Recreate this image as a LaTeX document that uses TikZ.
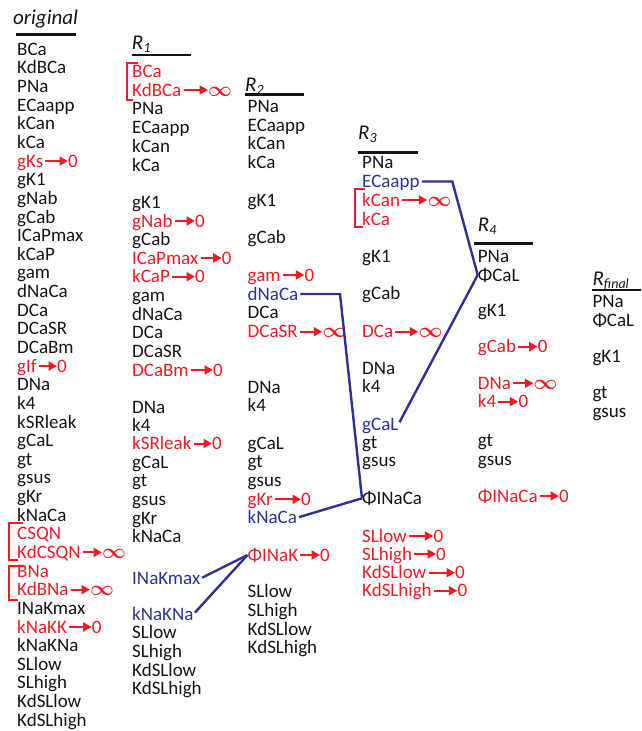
\documentclass[tikz,border=0pt]{standalone}
\usepackage{fontspec}
\setmainfont{Carlito}
\usetikzlibrary{arrows.meta}
\definecolor{cred}{RGB}{237,28,36}
\definecolor{cblue}{RGB}{46,49,146}
\definecolor{ctext}{RGB}{20,20,20}
\tikzset{
  lab/.style={anchor=west, inner sep=0pt, text height=12pt, text depth=0pt, text=ctext, font=\fontsize{19}{19}\selectfont},
  rl/.style={lab, text=cred},
  bl/.style={lab, text=cblue},
  ttl/.style={anchor=west, inner sep=0pt, text height=14pt, text depth=0pt, text=ctext, font={\fontsize{21}{21}\selectfont\itshape}},
  uline/.style={line width=2.4pt, ctext},
  rarr/.style={cred, line width=2pt, -{Triangle[length=8.5pt,width=9pt]}, shorten <=2pt},
  bline/.style={cblue, line width=2.4pt, shorten <=2pt, line join=miter},
  brk/.style={cred, line width=2pt}
}
\newcommand\redcut[6]{%
  \node[rl] (#1) at (#2,#3) {#4};
  \node[rl] (#1v) at (#5,#3) {#6};
  \draw[rarr] (#1.east) -- (#1v.west);}
\newcommand\infsym{{\fontsize{22}{22}\selectfont\boldmath$\infty$}}
\newcommand\subs[1]{\raisebox{-3pt}{\fontsize{14}{14}\selectfont #1}}
\begin{document}
\begin{tikzpicture}[x=1pt,y=-1pt]
\useasboundingbox (0,0) rectangle (641,731);

% ---------- original ----------
\node[ttl] (to) at (13,17) {original};
\draw[uline] (16,34.5) -- (76,34.5);
\node[lab] (o0) at (17,49.3) {BCa};
\node[lab] (o1) at (17,67.9) {KdBCa};
\node[lab] (o2) at (17,86.6) {PNa};
\node[lab] (o3) at (17,105.2) {ECaapp};
\node[lab] (o4) at (17,123.8) {kCan};
\node[lab] (o5) at (17,142.5) {kCa};
\redcut{o6}{17}{161.1}{gKs}{68}{0}
\node[lab] (o7) at (17,179.7) {gK1};
\node[lab] (o8) at (17,198.4) {gNab};
\node[lab] (o9) at (17,217.0) {gCab};
\node[lab] (o10) at (17,235.7) {ICaPmax};
\node[lab] (o11) at (17,254.3) {kCaP};
\node[lab] (o12) at (17,272.9) {gam};
\node[lab] (o13) at (17,291.6) {dNaCa};
\node[lab] (o14) at (17,310.2) {DCa};
\node[lab] (o15) at (17,328.8) {DCaSR};
\node[lab] (o16) at (17,347.5) {DCaBm};
\redcut{o17}{17}{366.1}{gIf}{57}{0}
\node[lab] (o18) at (17,384.7) {DNa};
\node[lab] (o19) at (17,403.4) {k4};
\node[lab] (o20) at (17,422.0) {kSRleak};
\node[lab] (o21) at (17,440.6) {gCaL};
\node[lab] (o22) at (17,459.3) {gt};
\node[lab] (o23) at (17,477.9) {gsus};
\node[lab] (o24) at (17,496.5) {gKr};
\node[lab] (o25) at (17,515.2) {kNaCa};
\node[rl] (o26) at (17,533.8) {CSQN};
\redcut{o27}{17}{552.4}{KdCSQN}{102}{\infsym}
\node[rl] (o28) at (17,571.1) {BNa};
\redcut{o29}{17}{589.7}{KdBNa}{90}{\infsym}
\node[lab] (o30) at (17,608.4) {INaKmax};
\redcut{o31}{17}{627.0}{kNaKK}{91.7}{0}
\node[lab] (o32) at (17,645.6) {kNaKNa};
\node[lab] (o33) at (17,664.3) {SLlow};
\node[lab] (o34) at (17,682.9) {SLhigh};
\node[lab] (o35) at (17,701.5) {KdSLlow};
\node[lab] (o36) at (17,720.2) {KdSLhigh};
\draw[brk] (23,522.7) -- (9,522.7) -- (9,560) -- (18,560);
\draw[brk] (24,566) -- (9,566) -- (9,600) -- (18,600);

% ---------- R1 ----------
\node[ttl] (t1) at (131.7,42) {R\subs{1}};
\draw[uline] (131.7,55) -- (191,55);
\node[rl] (a0) at (132,71) {BCa};
\redcut{a1}{132}{90}{KdBCa}{208}{\infsym}
\node[lab] (a2) at (132,108.5) {PNa};
\node[lab] (a3) at (132,127) {ECaapp};
\node[lab] (a4) at (132,146) {kCan};
\node[lab] (a5) at (132,165) {kCa};
\node[lab] (a6) at (132,202) {gK1};
\redcut{a7}{132}{221}{gNab}{195}{0}
\node[lab] (a8) at (132,239.5) {gCab};
\redcut{a9}{132}{258}{ICaPmax}{221.7}{0}
\redcut{a10}{132}{276.7}{kCaP}{195}{0}
\node[lab] (a11) at (132,295) {gam};
\node[lab] (a12) at (132,314) {dNaCa};
\node[lab] (a13) at (132,332.5) {DCa};
\node[lab] (a14) at (132,351) {DCaSR};
\redcut{a15}{132}{370}{DCaBm}{213}{0}
\node[lab] (a16) at (132,407) {DNa};
\node[lab] (a17) at (132,425) {k4};
\redcut{a18}{132}{443.5}{kSRleak}{212}{0}
\node[lab] (a19) at (132,462) {gCaL};
\node[lab] (a20) at (132,480) {gt};
\node[lab] (a21) at (132,499) {gsus};
\node[lab] (a22) at (132,518) {gKr};
\node[lab] (a23) at (132,536.7) {kNaCa};
\node[bl] (a24) at (132,578.5) {INaKmax};
\node[bl] (a25) at (132,614) {kNaKNa};
\node[lab] (a26) at (132,632.7) {SLlow};
\node[lab] (a27) at (132,651) {SLhigh};
\node[lab] (a28) at (132,670) {KdSLlow};
\node[lab] (a29) at (132,688.5) {KdSLhigh};
\draw[brk] (138,62.7) -- (126.7,62.7) -- (126.7,100) -- (133,100);

% ---------- R2 ----------
\node[ttl] (t2) at (245,84) {R\subs{2}};
\draw[uline] (245,94.3) -- (304,94.3);
\node[lab] (b0) at (247.5,106.7) {PNa};
\node[lab] (b1) at (247.5,125) {ECaapp};
\node[lab] (b2) at (247.5,143.5) {kCan};
\node[lab] (b3) at (247.5,162) {kCa};
\node[lab] (b4) at (247.5,200) {gK1};
\node[lab] (b5) at (247.5,237) {gCab};
\redcut{b6}{247.5}{275}{gam}{304.3}{0}
\node[bl] (b7) at (247.5,294) {dNaCa};
\node[lab] (b8) at (247.5,312.7) {DCa};
\redcut{b9}{247.5}{331.7}{DCaSR}{322.3}{\infsym}
\node[lab] (b10) at (247.5,387.3) {DNa};
\node[lab] (b11) at (247.5,405.5) {k4};
\node[lab] (b12) at (247.5,443.3) {gCaL};
\node[lab] (b13) at (247.5,461.7) {gt};
\node[lab] (b14) at (247.5,480) {gsus};
\redcut{b15}{247.5}{499.3}{gKr}{301}{0}
\node[bl] (b16) at (247.5,517.7) {kNaCa};
\redcut{b17}{247.5}{555}{ΦINaK}{320}{0}
\node[lab] (b18) at (247.5,591.7) {SLlow};
\node[lab] (b19) at (247.5,610) {SLhigh};
\node[lab] (b20) at (247.5,629) {KdSLlow};
\node[lab] (b21) at (247.5,647) {KdSLhigh};

% ---------- R3 ----------
\node[ttl] (t3) at (358,132) {R\subs{3}};
\draw[uline] (358.3,152.3) -- (418.3,152.3);
\node[lab] (c0) at (362,162.7) {PNa};
\node[bl] (c1) at (362,181.5) {ECaapp};
\redcut{c2}{362}{200}{kCan}{427.3}{\infsym}
\node[rl] (c3) at (362,219) {kCa};
\node[lab] (c4) at (362,256.7) {gK1};
\node[lab] (c5) at (362,293.3) {gCab};
\redcut{c6}{362}{331.7}{DCa}{418.3}{\infsym}
\node[lab] (c7) at (362,368.3) {DNa};
\node[lab] (c8) at (362,386.7) {k4};
\node[bl] (c9) at (362,424) {gCaL};
\node[lab] (c10) at (362,442.7) {gt};
\node[lab] (c11) at (362,460.7) {gsus};
\node[lab] (c12) at (362,498.3) {ΦINaCa};
\redcut{c13}{362}{536}{SLlow}{433.3}{0}
\redcut{c14}{362}{554}{SLhigh}{436}{0}
\redcut{c15}{362}{572.7}{KdSLlow}{455}{0}
\redcut{c16}{362}{590.7}{KdSLhigh}{457.3}{0}
\draw[brk] (365,189.3) -- (354.7,189.3) -- (354.7,226.7) -- (363,226.7);

% ---------- R4 ----------
\node[ttl] (t4) at (477.7,224) {R\subs{4}};
\draw[uline] (474.3,243.3) -- (533.3,243.3);
\node[lab] (d0) at (477.7,256) {PNa};
\node[lab] (d1) at (477.7,275) {ΦCaL};
\node[lab] (d2) at (477.7,310) {gK1};
\redcut{d3}{477.7}{346.7}{gCab}{537.7}{0}
\redcut{d4}{477.7}{383.3}{DNa}{533.3}{\infsym}
\redcut{d5}{477.7}{401.7}{k4}{518.3}{0}
\node[lab] (d6) at (477.7,440.5) {gt};
\node[lab] (d7) at (477.7,459) {gsus};
\redcut{d8}{477.7}{496}{ΦINaCa}{559}{0}

% ---------- R final ----------
\node[ttl] (t5) at (592.3,278) {R\subs{final}};
\draw[uline] (591.7,290) -- (641,290);
\node[lab] (e0) at (592.3,301.7) {PNa};
\node[lab] (e1) at (592.3,320) {ΦCaL};
\node[lab] (e2) at (592.3,356.7) {gK1};
\node[lab] (e3) at (592.3,392.7) {gt};
\node[lab] (e4) at (592.3,411.7) {gsus};

% ---------- blue merges ----------
\coordinate (k1) at (340,296);
\coordinate (k2) at (452.3,184);
\draw[bline] (a24.east) -- (b17.west);
\draw[bline] (a25.east) -- (b17.west);
\draw[bline] (b7.east) -- (k1 |- b7.east) -- (c12.west);
\draw[bline] (b16.east) -- (c12.west);
\draw[bline] (c1.east) -- (k2 |- c1.east) -- (d1.west);
\draw[bline] (c9.east) -- (d1.west);
\end{tikzpicture}
\end{document}
